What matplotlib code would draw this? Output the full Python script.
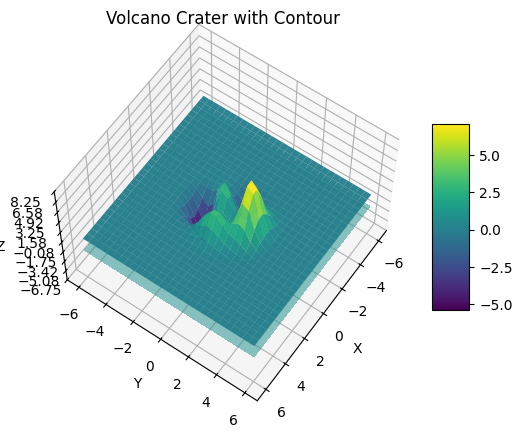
import matplotlib
matplotlib.use('Agg')
import matplotlib.pyplot as plt
import numpy as np

# grid, 30 points a side, -6 to 6
n_points = 30
axis_min = -6
axis_max = 6

# heights read off the bumps in the middle of the grid, rows are y, columns are x
# everything outside this block is practically flat, just above 0
flat_z = 0.001
bump_start = 8
bump_z = [
    [0.00, 0.00, 0.01, 0.00, -0.11, -0.38, -0.73, -0.87, -0.67, -0.35, -0.12, -0.03, 0.00, 0.00],
    [0.00, 0.01, 0.03, -0.01, -0.37, -1.30, -2.47, -2.94, -2.28, -1.16, -0.39, -0.08, -0.01, 0.00],
    [0.00, 0.03, 0.08, 0.08, -0.48, -2.24, -4.70, -5.85, -4.59, -2.30, -0.72, -0.13, -0.01, 0.00],
    [0.00, 0.02, 0.13, 0.40, 0.38, -1.07, -4.05, -6.06, -4.99, -2.31, -0.49, 0.05, 0.06, 0.02],
    [-0.03, -0.08, -0.07, 0.46, 1.69, 2.23, 0.34, -2.22, -2.21, -0.34, 0.73, 0.60, 0.22, 0.05],
    [-0.08, -0.33, -0.76, -0.64, 1.15, 3.49, 3.12, 0.70, 0.34, 1.88, 2.28, 1.33, 0.45, 0.10],
    [-0.13, -0.58, -1.56, -2.32, -1.00, 1.83, 2.36, 0.59, 0.88, 2.95, 3.27, 1.86, 0.63, 0.13],
    [-0.14, -0.63, -1.79, -2.98, -2.28, 0.22, 1.11, 0.05, 0.80, 2.95, 3.25, 1.83, 0.62, 0.13],
    [-0.10, -0.46, -1.32, -2.24, -1.80, 0.08, 1.00, 0.47, 0.97, 2.31, 2.38, 1.32, 0.44, 0.09],
    [-0.05, -0.22, -0.57, -0.72, 0.29, 2.48, 4.00, 3.78, 3.03, 2.45, 1.66, 0.78, 0.24, 0.05],
    [-0.01, -0.04, -0.01, 0.52, 2.28, 5.20, 7.52, 7.45, 5.41, 3.06, 1.37, 0.48, 0.12, 0.02],
    [0.00, 0.02, 0.15, 0.75, 2.29, 4.72, 6.70, 6.68, 4.78, 2.50, 0.96, 0.28, 0.06, 0.01],
    [0.00, 0.02, 0.10, 0.40, 1.16, 2.33, 3.30, 3.29, 2.34, 1.20, 0.44, 0.12, 0.02, 0.00],
    [0.00, 0.01, 0.03, 0.12, 0.35, 0.69, 0.97, 0.97, 0.69, 0.35, 0.13, 0.03, 0.01, 0.00],
]

xy_ticks = [-6, -4, -2, 0, 2, 4, 6]
z_ticks = [-6.75, -5.08, -3.42, -1.75, -0.08, 1.58, 3.25, 4.92, 6.58, 8.25]
z_labels = ['\u22126.75', '\u22125.08', '\u22123.42', '\u22121.75', '\u22120.08',
            '1.58', '3.25', '4.92', '6.58', '8.25']
cbar_ticks = [-5, -2.5, 0, 2.5, 5]
contour_offset = -2
contour_levels = 15

x = np.linspace(axis_min, axis_max, n_points)
y = np.linspace(axis_min, axis_max, n_points)
X, Y = np.meshgrid(x, y)
Z = np.full((n_points, n_points), flat_z)
bump = np.array(bump_z)
Z[bump_start:bump_start + bump.shape[0], bump_start:bump_start + bump.shape[1]] = bump

fig = plt.figure(figsize=(5.22, 4.37), dpi=100)
ax = fig.add_axes([38 / 522, 35 / 437, 370 / 522, 370 / 437], projection='3d')

surf = ax.plot_surface(X, Y, Z, cmap='viridis', alpha=0.97)
ax.contourf(X, Y, Z, contour_levels, zdir='z', offset=contour_offset, cmap='viridis', alpha=0.52)

ax.set_zlim(z_ticks[0], z_ticks[-1])
ax.set_xticks(xy_ticks)
ax.set_yticks(xy_ticks)
ax.set_zticks(z_ticks)
ax.set_zticklabels(z_labels)
ax.set_xlabel('X')
ax.set_ylabel('Y')
ax.set_zlabel('Z')
ax.set_title('Volcano Crater with Contour')
ax.view_init(elev=60, azim=35)

# colorbar stays opaque, so it gets its own mappable with the surface's scale
fig.canvas.draw()
cax = fig.add_axes([432 / 522, 127 / 437, 37.5 / 522, 186 / 437])
sm = plt.cm.ScalarMappable(norm=surf.norm, cmap='viridis')
cbar = fig.colorbar(sm, cax=cax)
cbar.set_ticks(cbar_ticks)

fig.savefig('out.png', dpi=100)
